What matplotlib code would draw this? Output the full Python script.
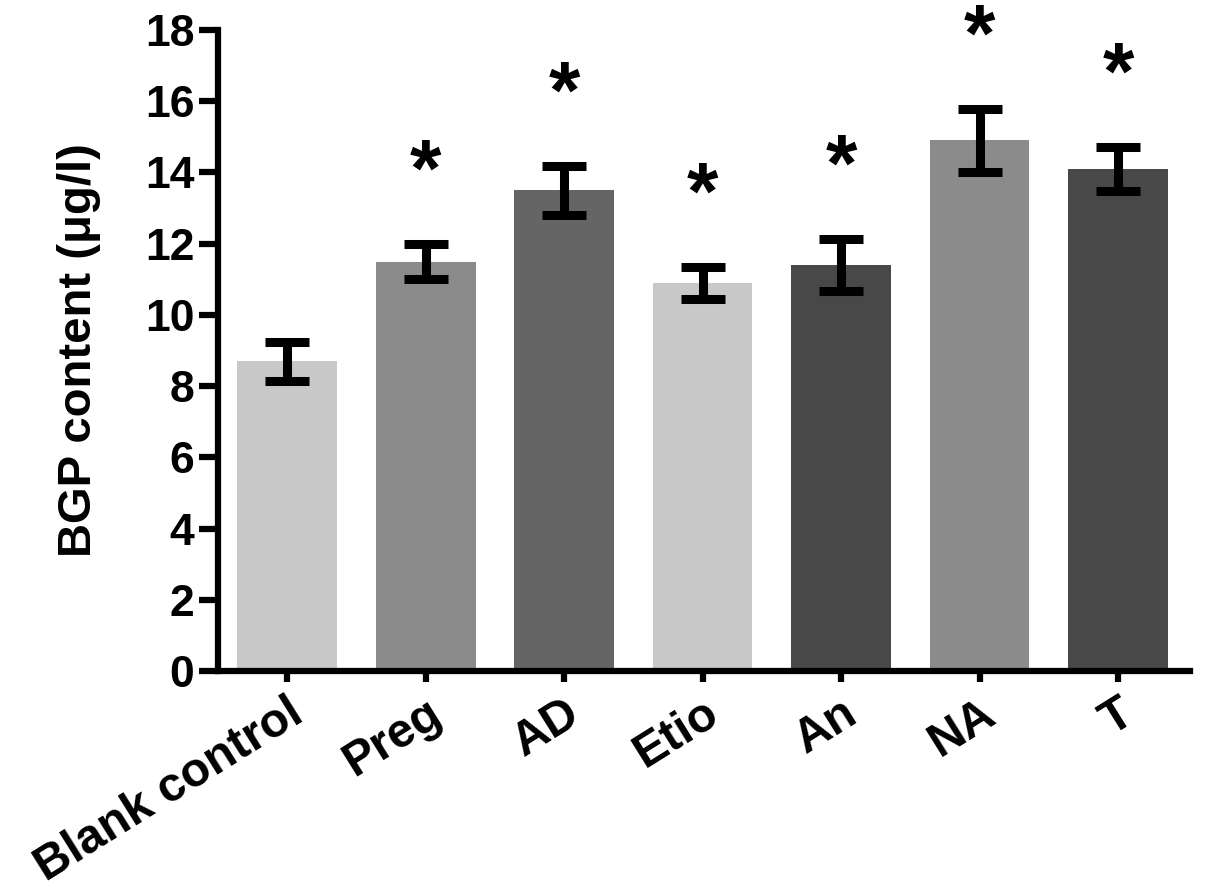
import matplotlib.pyplot as plt

groups = ["Blank control", "Preg", "AD", "Etio", "An", "NA", "T"]
means = [8.7, 11.5, 13.5, 10.9, 11.4, 14.9, 14.1]
errs = [0.55, 0.5, 0.68, 0.45, 0.72, 0.88, 0.62]
colors = ["#c8c8c8", "#8b8b8b", "#656565", "#c8c8c8", "#484848", "#8b8b8b", "#484848"]
signif = ["", "*", "*", "*", "*", "*", "*"]

plt.rcParams["font.family"] = ["Liberation Sans", "DejaVu Sans"]
plt.rcParams["font.weight"] = "bold"

fig = plt.figure(figsize=(12.05, 8.96), dpi=100)
ax = fig.add_axes([0.181, 0.251, 0.8065, 0.7155])

x = list(range(len(groups)))
ax.bar(x, means, width=0.72, color=colors, zorder=1)
ax.errorbar(x, means, yerr=errs, fmt="none", ecolor="black", elinewidth=6.5,
            capsize=16, capthick=6.5, zorder=2)

for xi, m, e, s in zip(x, means, errs, signif):
    if s:
        ax.annotate(s, (xi, m + e), xytext=(0, 50), textcoords="offset points",
                    ha="center", va="center", fontsize=58, fontweight="bold")

ax.set_xlim(-0.5, 6.52)
ax.set_ylim(0, 18)
ax.set_yticks(range(0, 19, 2))
ax.set_xticks(x)
ax.set_xticklabels(groups, rotation=32, ha="right", rotation_mode="anchor")
ax.tick_params(axis="y", labelsize=32, width=4.5, length=14, pad=3)
ax.tick_params(axis="x", labelsize=34.5, width=4.5, length=8, pad=6)
for lab in ax.get_xticklabels() + ax.get_yticklabels():
    lab.set_fontweight("bold")
ax.set_ylabel("BGP content (μg/l)", fontsize=34, fontweight="bold", labelpad=32)

for side in ["top", "right"]:
    ax.spines[side].set_visible(False)
for side in ["left", "bottom"]:
    ax.spines[side].set_linewidth(4.5)

fig.savefig("out.png", dpi=100)
